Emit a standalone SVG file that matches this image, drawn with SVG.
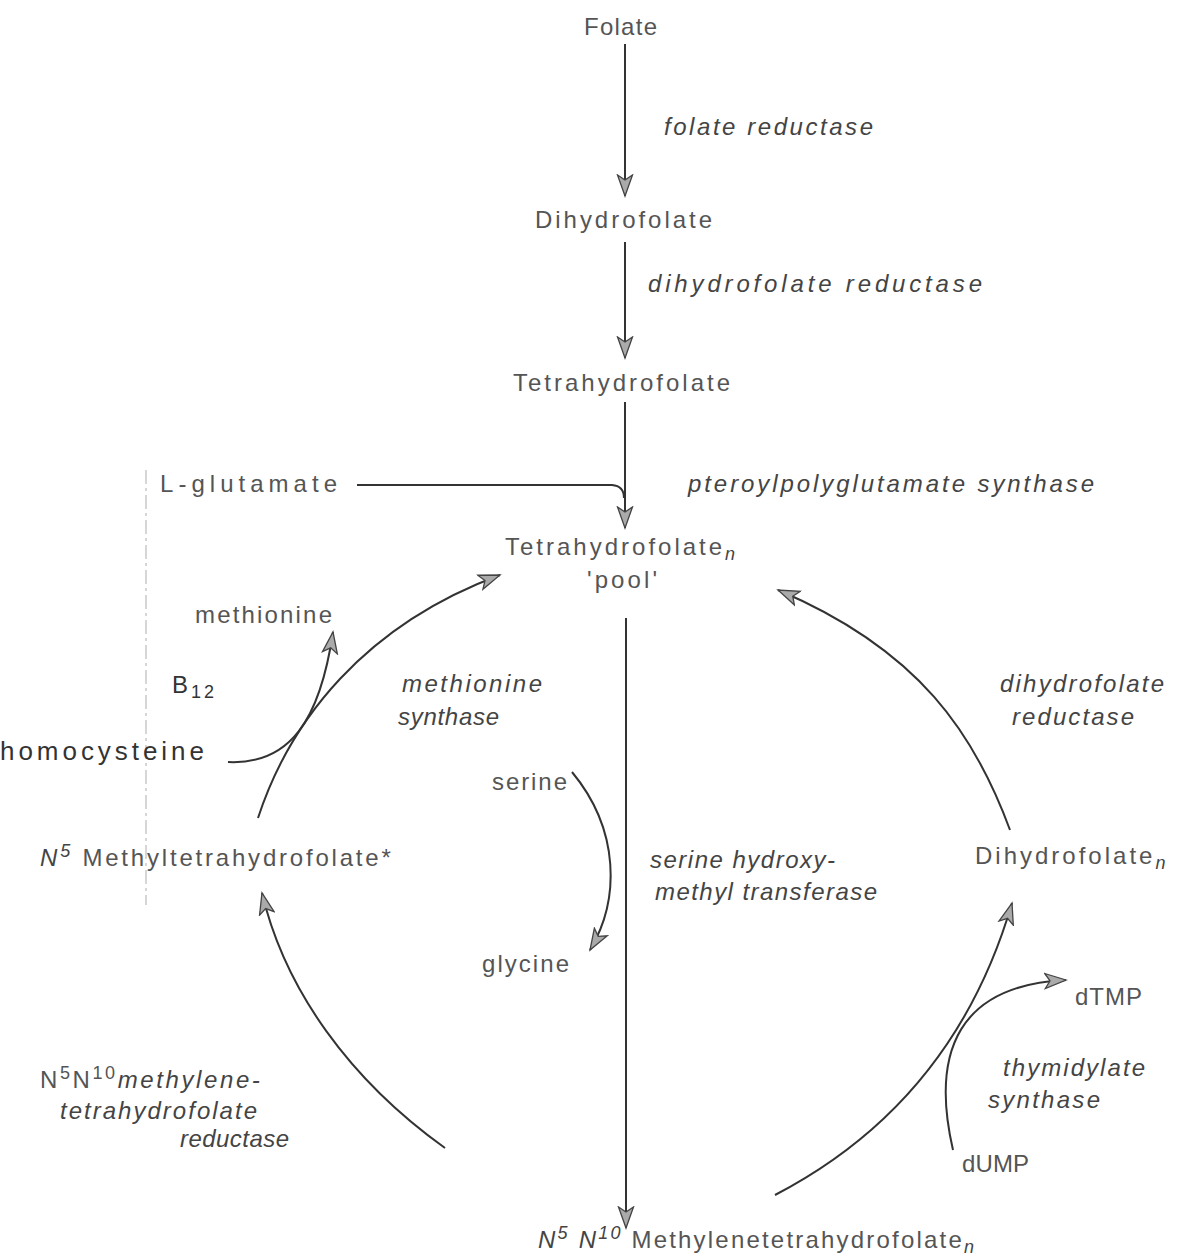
<svg xmlns="http://www.w3.org/2000/svg" width="1187" height="1256" viewBox="0 0 1187 1256">
<defs>
<marker id="ah" markerUnits="userSpaceOnUse" markerWidth="24" markerHeight="18" refX="22" refY="9" orient="auto">
<path d="M1,1.5 L22,9 L1,16.5 L6,9 Z" fill="#aaa" stroke="#444" stroke-width="1.3" stroke-linejoin="miter"/>
</marker>
</defs>
<style>
.t{font-family:"Liberation Sans",Arial,sans-serif;font-size:24px;fill:#555;letter-spacing:3px}
.i{font-style:italic;fill:#444}
.d{fill:#333}
.c{fill:none;stroke:#333;stroke-width:2}
.sub{font-size:18px}
</style>
<rect width="1187" height="1256" fill="#fff"/>
<line x1="146" y1="470" x2="146" y2="905" stroke="#bbb" stroke-width="1.2" stroke-dasharray="14 4 3 4"/>
<g id="connectors">
<path class="c" d="M625,44 L625,196" marker-end="url(#ah)"/>
<path class="c" d="M625,242 L625,358" marker-end="url(#ah)"/>
<path class="c" d="M625,402 L625,528" marker-end="url(#ah)"/>
<path class="c" d="M357,485 L612,485 Q624,486 624,498"/>
<path class="c" d="M626,618 L626,1228" marker-end="url(#ah)"/>
<path class="c" d="M258,818 C290,720 365,625 500,575" marker-end="url(#ah)"/>
<path class="c" d="M228,762 C290,765 320,720 333,632" marker-end="url(#ah)"/>
<path class="c" d="M1010,830 C975,735 920,650 778,590" marker-end="url(#ah)"/>
<path class="c" d="M445,1148 C350,1080 285,990 262,893" marker-end="url(#ah)"/>
<path class="c" d="M775,1195 C900,1130 975,1030 1012,903" marker-end="url(#ah)"/>
<path class="c" d="M953,1150 C930,1050 960,985 1066,980" marker-end="url(#ah)"/>
<path class="c" d="M572,772 C620,830 620,900 590,950" marker-end="url(#ah)"/>
</g>
<g id="folate"><text class="t" x="584" y="35" textLength="76">Folate</text></g>
<g id="folate-reductase"><text class="t i" x="664" y="135" textLength="212">folate reductase</text></g>
<g id="dihydrofolate"><text class="t" x="535" y="228" textLength="180">Dihydrofolate</text></g>
<g id="dihydrofolate-reductase"><text class="t i" x="648" y="292" textLength="337">dihydrofolate reductase</text></g>
<g id="tetrahydrofolate"><text class="t" x="513" y="391" textLength="220">Tetrahydrofolate</text></g>
<g id="l-glutamate"><text class="t" x="160" y="492" textLength="180">L-glutamate</text></g>
<g id="pteroylpolyglutamate-synthase"><text class="t i" x="688" y="492" textLength="409">pteroylpolyglutamate synthase</text></g>
<g id="tetrahydrofolate-n-pool"><text class="t" x="505" y="555">Tetrahydrofolate<tspan class="i sub" dy="5">n</tspan></text><text class="t" x="587" y="588" textLength="73">'pool'</text></g>
<g id="methionine"><text class="t" x="195" y="623" textLength="140">methionine</text></g>
<g id="b12"><text class="t d" x="172" y="693">B<tspan class="sub" dy="5">12</tspan></text></g>
<g id="methionine-synthase"><text class="t i" x="402" y="692" textLength="143">methionine</text><text class="t i" x="398" y="725" textLength="104">synthase</text></g>
<g id="homocysteine"><text class="t d" x="0" y="760" style="font-size:26px" textLength="207">homocysteine</text></g>
<g id="n5-methyltetrahydrofolate"><text class="t" x="40" y="866" style="letter-spacing:2.8px"><tspan class="i">N</tspan><tspan class="i sub" dy="-9">5</tspan><tspan dy="9"> Methyltetrahydrofolate*</tspan></text></g>
<g id="serine"><text class="t" x="492" y="790" textLength="78">serine</text></g>
<g id="glycine"><text class="t" x="482" y="972" textLength="90">glycine</text></g>
<g id="serine-hydroxymethyl-transferase"><text class="t i" x="650" y="868" textLength="188">serine hydroxy-</text><text class="t i" x="655" y="900" textLength="225">methyl transferase</text></g>
<g id="dihydrofolate-reductase-2"><text class="t i" x="1000" y="692" textLength="167">dihydrofolate</text><text class="t i" x="1012" y="725" textLength="125">reductase</text></g>
<g id="dihydrofolate-n"><text class="t" x="975" y="864">Dihydrofolate<tspan class="i sub" dy="5">n</tspan></text></g>
<g id="dtmp"><text class="t" x="1075" y="1005" textLength="70">dTMP</text></g>
<g id="thymidylate-synthase"><text class="t i" x="1003" y="1076" textLength="145">thymidylate</text><text class="t i" x="988" y="1108" textLength="115">synthase</text></g>
<g id="dump"><text class="t" x="962" y="1172" textLength="70">dUMP</text></g>
<g id="methylenetetrahydrofolate-reductase"><text class="t" x="40" y="1088" style="letter-spacing:2.6px">N<tspan class="sub" dy="-9">5</tspan><tspan dy="9">N</tspan><tspan class="sub" dy="-9">10</tspan><tspan class="i" dy="9">methylene-</tspan></text><text class="t i" x="60" y="1119" textLength="200">tetrahydrofolate</text><text class="t i" x="180" y="1147" textLength="112">reductase</text></g>
<g id="n5n10-methylenetetrahydrofolate-n"><text class="t" x="538" y="1248" style="letter-spacing:2.2px"><tspan class="i">N</tspan><tspan class="i sub" dy="-9">5</tspan><tspan class="i" dy="9"> N</tspan><tspan class="i sub" dy="-9">10</tspan><tspan dy="9"> Methylenetetrahydrofolate</tspan><tspan class="i sub" dy="5">n</tspan></text></g>
</svg>
